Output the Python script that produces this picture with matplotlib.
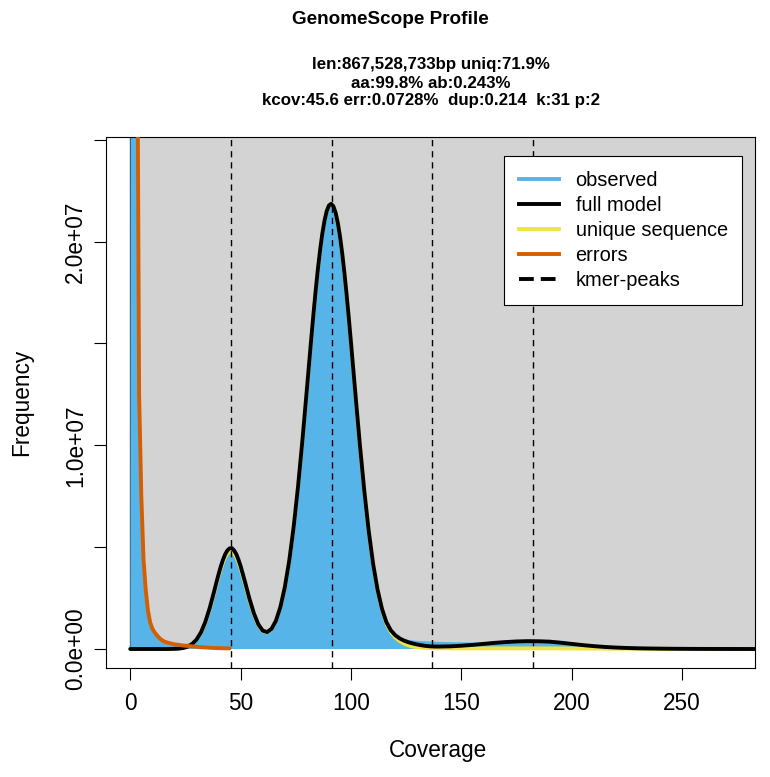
import matplotlib
matplotlib.use("Agg")
import matplotlib.pyplot as plt
from matplotlib.patches import Rectangle
from matplotlib.lines import Line2D
import numpy as np

plt.rcParams['font.family'] = ['Liberation Sans', 'DejaVu Sans']

# ---------------- data (frequencies in millions) ----------------
coverage = ([0, 1, 2, 3, 4, 5, 6, 7, 8, 9, 10, 11, 12, 13, 14, 15, 16] +
            [18, 20, 22, 24, 26, 28, 30, 32, 34, 36, 38] +
            [39, 40, 41, 42, 43, 44, 45, 46, 47, 48, 49, 50] +
            [52, 54, 56, 58, 60, 62, 64, 66, 68, 70, 72, 74, 76, 78, 80, 82] +
            [83, 84, 85, 86, 87, 88, 89, 90, 91, 92, 93, 94, 95, 96, 97, 98, 99] +
            [100, 102, 104, 106, 108, 110, 112, 114, 116, 118, 120, 122, 124, 126, 128,
             130, 132, 134, 136, 138, 140] +
            [145, 150, 155, 160, 165, 170, 175, 180, 185, 190, 195, 200, 205, 210, 215,
             220, 225, 230, 235, 240, 245, 250, 255, 260, 265, 270, 275, 280, 285])

observed = ([0, 320, 115, 30, 12.7, 7.6, 4.45, 2.95, 1.95, 1.35, 1.02, 0.83, 0.69, 0.57, 0.47, 0.40, 0.35] +
            [0.29, 0.24, 0.22, 0.22, 0.26, 0.37, 0.57, 0.90, 1.40, 2.08, 2.88] +
            [3.29, 3.70, 4.08, 4.40, 4.67, 4.85, 4.94, 4.94, 4.85, 4.64, 4.38, 4.04] +
            [3.26, 2.44, 1.74, 1.20, 0.89, 0.83, 0.99, 1.39, 2.06, 3.03, 4.33, 5.98, 7.98, 10.27, 12.75, 15.26] +
            [16.46, 17.61, 18.66, 19.59, 20.39, 21.03, 21.50, 21.77, 21.85, 21.73, 21.42, 20.92, 20.25,
             19.42, 18.46, 17.39, 16.23] +
            [15.01, 12.50, 10.03, 7.77, 5.80, 4.18, 2.92, 1.98, 1.33, 0.95, 0.75, 0.60, 0.50, 0.45, 0.42,
             0.40, 0.39, 0.38, 0.37, 0.36, 0.35] +
            [0.34, 0.33, 0.32, 0.32, 0.33, 0.34, 0.35, 0.36, 0.35, 0.32, 0.27, 0.21, 0.16, 0.12, 0.09,
             0.065, 0.05, 0.04, 0.035, 0.03, 0.028, 0.025, 0.022, 0.02, 0.018, 0.016, 0.015, 0.014, 0.013])

full_model = ([0] * 17 +
              [0.002, 0.008, 0.02, 0.05, 0.114, 0.24, 0.46, 0.81, 1.33, 2.02, 2.83] +
              [3.26, 3.67, 4.05, 4.38, 4.65, 4.84, 4.94, 4.95, 4.84, 4.66, 4.39, 4.06] +
              [3.28, 2.46, 1.75, 1.21, 0.90, 0.83, 0.99, 1.39, 2.06, 3.03, 4.33, 5.98, 7.98, 10.27, 12.75, 15.26] +
              [16.46, 17.61, 18.66, 19.59, 20.39, 21.03, 21.50, 21.77, 21.85, 21.73, 21.42, 20.92, 20.25,
               19.42, 18.46, 17.39, 16.23] +
              [15.01, 12.50, 10.03, 7.77, 5.80, 4.18, 2.92, 1.98, 1.32, 0.92, 0.68, 0.52, 0.41, 0.33, 0.27,
               0.22, 0.18, 0.15, 0.13, 0.12, 0.12] +
              [0.13, 0.16, 0.20, 0.25, 0.30, 0.34, 0.37, 0.385, 0.38, 0.36, 0.31, 0.25, 0.19, 0.14, 0.10,
               0.07, 0.05, 0.035, 0.025, 0.018, 0.012, 0.008, 0.005, 0.003, 0.002, 0.001, 0.001, 0, 0])

unique_seq = ([0] * 17 +
              [0.002, 0.008, 0.02, 0.05, 0.11, 0.23, 0.44, 0.79, 1.29, 1.96, 2.75] +
              [3.16, 3.56, 3.93, 4.25, 4.51, 4.69, 4.79, 4.80, 4.70, 4.52, 4.26, 3.94] +
              [3.18, 2.39, 1.70, 1.18, 0.88, 0.82, 0.98, 1.39, 2.06, 3.03, 4.33, 5.98, 7.98, 10.27, 12.75, 15.26] +
              [16.46, 17.61, 18.66, 19.59, 20.39, 21.03, 21.50, 21.77, 21.85, 21.73, 21.42, 20.92, 20.25,
               19.42, 18.46, 17.39, 16.23] +
              [15.01, 12.50, 10.03, 7.77, 5.80, 4.18, 2.90, 1.94, 1.27, 0.84, 0.57, 0.39, 0.27, 0.18, 0.12,
               0.085, 0.065, 0.05, 0.045, 0.04, 0.035] +
              [0.03, 0.03, 0.03, 0.03, 0.03, 0.03, 0.03, 0.03, 0.03, 0.03, 0.028, 0.025, 0.022, 0.02, 0.017,
               0.015, 0.012, 0.01, 0.008, 0.006, 0.005, 0.004, 0.003, 0.003, 0.002, 0.002, 0.001, 0.001, 0.001])

error_coverage = [1, 2, 3, 4, 5, 6, 7, 8, 9, 10, 11, 12, 13, 14, 15, 16,
                  18, 20, 22, 24, 26, 28, 30, 32, 34, 36, 38, 40, 42, 44, 45]
errors = [350, 115, 35, 12.5, 7.5, 4.4, 2.9, 1.9, 1.3, 1.0, 0.82, 0.68, 0.56, 0.46, 0.39, 0.34,
          0.28, 0.23, 0.20, 0.17, 0.15, 0.13, 0.11, 0.09, 0.075, 0.06, 0.05, 0.04, 0.035, 0.03, 0.03]

kmer_peaks = [45.6, 91.2, 136.8, 182.4]

x_ticks = [0, 50, 100, 150, 200, 250]
y_ticks = [0, 5e6, 1e7, 1.5e7, 2e7, 2.5e7]
y_tick_labels = ['0.0e+00', '', '1.0e+07', '', '2.0e+07', '']

title = "GenomeScope Profile"
subtitle = ["len:867,528,733bp uniq:71.9%",
            "aa:99.8% ab:0.243%",
            "kcov:45.6 err:0.0728%  dup:0.214  k:31 p:2"]
legend_labels = ["observed", "full model", "unique sequence", "errors", "kmer-peaks"]

# ---------------- colours ----------------
C_HIST = '#56B4E9'
C_MODEL = 'black'
C_UNIQUE = '#F0E442'
C_ERR = '#D55E00'
C_BG = '#D3D3D3'

M = 1e6
cov = np.array(coverage, dtype=float)
obs = np.array(observed) * M
full = np.array(full_model) * M
uniq = np.array(unique_seq) * M
ecov = np.array(error_coverage, dtype=float)
err = np.array(errors) * M

W, H = 770, 777
fig = plt.figure(figsize=(W / 100, H / 100), dpi=100)


def fx(px):
    return px / W


def fy(py):
    return 1 - py / H


ax = fig.add_axes([fx(106), fy(668), (755 - 106) / W, (668 - 137) / H])
ax.set_xlim(-11.0, 283.0)
ax.set_ylim(-0.933e6, 25.13e6)

# background
ax.add_patch(Rectangle((0, 0), 1000, 1e9, facecolor=C_BG, edgecolor='none', zorder=1))
ax.plot([0, 0], [0, 1e9], color='black', lw=0.9, zorder=1.5)

# observed histogram
ax.fill_between(cov, obs, 0, color=C_HIST, lw=0, zorder=2)
lw = 2.8
ax.plot(cov, uniq, color=C_UNIQUE, lw=lw, zorder=3, solid_joinstyle='round', solid_capstyle='round')
ax.plot(cov, full, color=C_MODEL, lw=lw, zorder=4, solid_joinstyle='round', solid_capstyle='round')
ax.plot(ecov, err, color=C_ERR, lw=lw, zorder=5, solid_joinstyle='round', solid_capstyle='round')
for p in kmer_peaks:
    ax.axvline(p, color='black', lw=1.0, ls=(0, (4.5, 3.5)), zorder=6)

# axes styling
for s in ax.spines.values():
    s.set_linewidth(0.8)
    s.set_color('black')
ax.set_xticks(x_ticks)
ax.set_xticklabels([str(t) for t in x_ticks])
ax.set_yticks(y_ticks)
ax.set_yticklabels(y_tick_labels, rotation=90, va='center')
ax.tick_params(axis='both', direction='out', length=8.6, width=0.8, labelsize=16.3, colors='black')
ax.tick_params(axis='x', pad=9)
ax.tick_params(axis='y', pad=5)

fig.text(fx(438), fy(750), "Coverage", fontsize=16.3, ha='center', va='center')
fig.text(fx(22), fy(402), "Frequency", fontsize=16.3, ha='center', va='center', rotation=90)

fig.text(fx(390), fy(20), title, fontsize=13.6, fontweight='bold', ha='center', va='center')
for i, line in enumerate(subtitle):
    fig.text(fx(430.5), fy(65 + 18 * i), line, fontsize=12.2, fontweight='bold',
             ha='center', va='center')

# legend
handles = [Line2D([], [], color=C_HIST, lw=lw),
           Line2D([], [], color=C_MODEL, lw=lw),
           Line2D([], [], color=C_UNIQUE, lw=lw),
           Line2D([], [], color=C_ERR, lw=lw),
           Line2D([], [], color='black', lw=lw, ls=(0, (3.8, 1.8)))]
leg = ax.legend(handles, legend_labels, loc='upper left',
                bbox_to_anchor=(fx(504), fy(156)), bbox_transform=fig.transFigure,
                borderaxespad=0, fontsize=14.4, frameon=True, fancybox=False,
                edgecolor='black', facecolor='white', framealpha=1,
                handlelength=2.0, handletextpad=0.85, labelspacing=0.31, borderpad=0.73)
leg.get_frame().set_linewidth(0.8)
leg.set_zorder(10)

fig.savefig("out.png", dpi=100)
